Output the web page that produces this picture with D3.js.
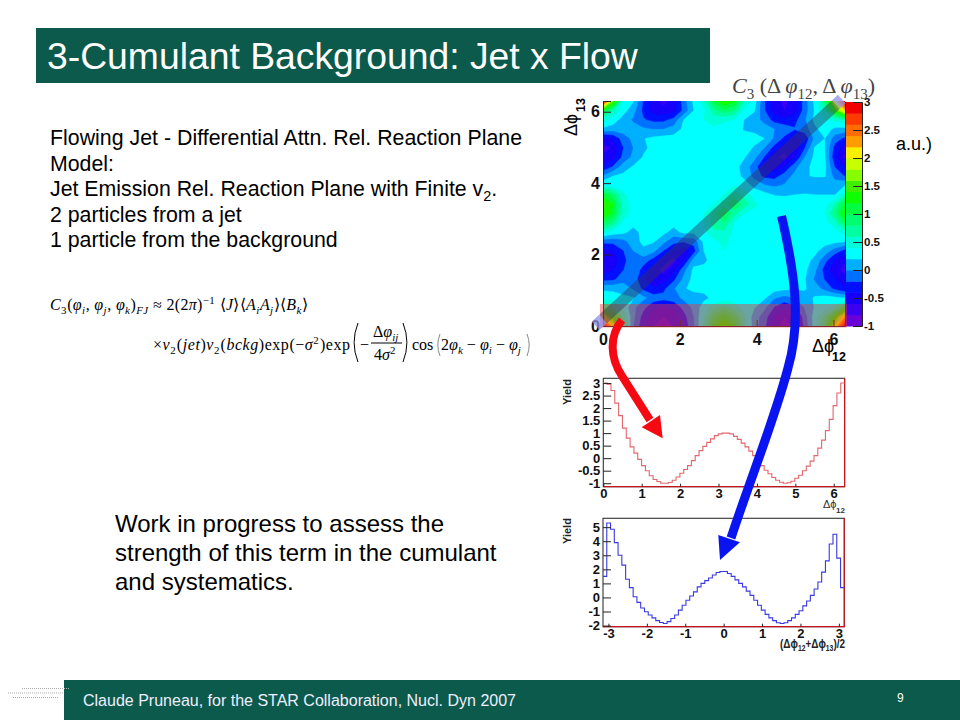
<!DOCTYPE html>
<html><head><meta charset="utf-8">
<script src="https://cdn.jsdelivr.net/npm/d3@7"></script>
<style>html,body{margin:0;padding:0;background:#fff}svg{display:block}
text{font-family:"Liberation Sans",Arial,sans-serif}</style></head>
<body><svg id="c" width="960" height="720" viewBox="0 0 960 720"></svg>
<script>
// ---------- values ----------
const titleText = "3-Cumulant Background: Jet x Flow";
const footerText = "Claude Pruneau, for the STAR Collaboration, Nucl. Dyn 2007";
const pageNumber = "9";
const wipLines = ["Work in progress to assess the","strength of this term in the cumulant","and systematics."];

// C3 map, rows from dphi13 = 0 upward, columns from dphi12 = 0 rightward
const c3Rows = [
[3.0,2.0,.7,0,-.35,-.6,-.68,-.6,-.35,-.03,.45,1.15,1.45,1.15,.5,.1,-.14,-.5,-.68,-.56,-.14,.3,.8,1.9,3.0],
[2.0,1.3,.55,.05,-.28,-.52,-.6,-.52,-.28,0,.4,.9,1.15,.9,.45,.1,-.1,-.42,-.6,-.5,-.1,.3,.65,1.3,2.2],
[.8,.65,.35,.05,-.14,-.35,-.42,-.35,-.14,.05,.3,.5,.65,.5,.3,.22,.05,-.21,-.35,-.25,.02,.22,.3,.45,1.0],
[.35,.3,.25,.22,.05,-.1,-.14,-.1,.05,.12,.15,.25,.3,.3,.28,.27,.23,.02,-.07,0,.12,.22,.28,.25,.2],
[.15,.15,.1,-.03,-.25,-.38,-.25,-.03,.18,.25,.25,.3,.3,.3,.3,.3,.3,.28,.25,.23,.22,.1,-.07,-.25,-.38],
[-.28,-.25,-.07,-.07,-.38,-.56,-.5,-.25,.05,.27,.3,.32,.35,.32,.3,.3,.3,.3,.3,.28,.22,-.03,-.21,-.38,-.52],
[-.5,-.42,-.21,-.03,-.28,-.5,-.68,-.5,-.07,.25,.27,.3,.35,.33,.3,.3,.3,.3,.3,.3,.25,.05,-.28,-.52,-.68],
[-.6,-.52,-.28,-.03,-.1,-.28,-.5,-.68,-.42,.1,.15,.3,.4,.35,.3,.3,.3,.3,.3,.3,.27,.15,-.14,-.42,-.56],
[-.5,-.42,-.21,0,.15,.05,-.21,-.42,-.56,-.28,.2,.3,.4,.35,.3,.3,.3,.3,.3,.3,.3,.25,.1,-.1,-.28],
[-.14,-.14,-.07,.1,.25,.22,.05,-.14,-.18,-.14,.25,.35,.45,.33,.3,.3,.3,.3,.3,.3,.3,.3,.28,.25,.2],
[.45,.3,.25,.12,.27,.3,.25,.12,.25,.25,.35,.55,.55,.35,.3,.3,.3,.3,.3,.3,.3,.3,.3,.33,.45],
[1.0,.75,.35,.27,.3,.3,.3,.27,.3,.32,.4,.7,.8,.4,.33,.3,.3,.3,.3,.3,.3,.3,.33,.5,1.0],
[1.4,1.15,.5,.33,.3,.3,.33,.33,.33,.35,.4,.7,1.05,.7,.4,.33,.3,.3,.3,.3,.3,.33,.4,.8,1.35],
[1.45,1.2,.5,.33,.3,.3,.3,.3,.3,.3,.33,.4,.7,1.0,.7,.45,.33,.3,.3,.3,.3,.3,.33,.6,1.15],
[1.15,.9,.45,.3,.3,.3,.3,.3,.3,.3,.3,.32,.4,.7,.55,.3,.27,.19,.18,.2,.22,.2,.2,.2,.6],
[.4,.3,.3,.28,.28,.3,.3,.3,.3,.3,.3,.3,.3,.4,.3,.15,.02,-.03,.02,.05,.05,.05,.05,.1,.2],
[.02,.2,.25,.27,.3,.3,.3,.3,.3,.3,.3,.3,.3,.3,.15,-.07,-.25,-.28,-.1,.05,.18,.22,.22,-.07,-.21],
[-.38,-.18,.1,.22,.3,.3,.3,.3,.3,.3,.3,.3,.3,.28,.12,-.1,-.42,-.6,-.38,-.07,.15,.25,.25,-.21,-.42],
[-.56,-.46,-.14,.05,.22,.3,.3,.3,.3,.3,.3,.3,.3,.3,.22,.05,-.21,-.56,-.68,-.42,0,.25,.22,-.35,-.65],
[-.68,-.56,-.21,0,.15,.27,.3,.3,.3,.3,.3,.3,.3,.3,.28,.18,0,-.28,-.52,-.6,-.21,.22,.2,-.28,-.52],
[-.5,-.38,-.1,.05,.19,.25,.28,.28,.28,.3,.3,.3,.3,.32,.3,.27,.2,-.03,-.25,-.46,-.35,.05,.2,-.1,-.25],
[.15,.1,.1,.08,.03,0,0,.08,.25,.3,.33,.35,.35,.33,.18,.15,.1,0,-.07,-.18,-.1,.15,.3,.15,.12],
[.5,.3,.12,-.03,-.18,-.25,-.25,-.14,.2,.3,.4,.5,.42,.4,.2,.1,-.07,-.28,-.35,-.28,-.03,.25,.4,.45,.6],
[1.2,.6,.28,.08,-.25,-.5,-.56,-.46,-.14,.2,.35,.7,.95,.8,.35,.22,-.18,-.5,-.6,-.5,-.1,.22,.6,1.4,2.2],
[3.0,1.6,.38,.22,-.21,-.52,-.65,-.52,-.1,.25,.5,1.1,1.4,1.25,.6,.3,-.18,-.52,-.65,-.52,-.1,.25,.9,2.0,3.0]
];
const levelEdges = [-1,-.8,-.6,-.4,-.2,0,.2,.4,.6,.8,1,1.2,1.4,1.6,1.8,2,2.2,2.4,2.6,2.8];
const levelColors = ["#6a00d8","#3c00f0","#1800f8","#0010ff","#0070ff","#00b0ff","#00ffff","#00ffd8","#00ffa0","#00ff70",
"#00ff40","#10ff00","#40f000","#88ff00","#c8ff00","#f8f000","#ff9c00","#ff6c00","#ff3a00","#f00000"];
const c3Ticks = [0,2,4,6];
const barTicks = [3,2.5,2,1.5,1,.5,0,-.5,-1];

// y values of the two projections
const redYield = [3.0,2.95,2.7,2.2,1.7,1.2,.8,.45,.2,-.05,-.3,-.5,-.7,-.85,-.93,-1,-1,-.97,-.88,-.75,-.6,-.45,-.3,-.1,.1,.3,.47,.63,.77,.9,.97,1,1,.97,.87,.75,.6,.45,.28,.1,-.15,-.3,-.48,-.62,-.77,-.88,-.96,-1,-.98,-.92,-.8,-.68,-.5,-.32,-.12,.1,.4,.72,1.1,1.55,2.1,2.6,3.0];
const blueYield = [1.5,5.3,4.85,3.9,3.0,2.3,1.3,.7,.05,-.35,-.75,-1.02,-1.25,-1.45,-1.65,-1.78,-1.85,-1.72,-1.5,-1.25,-.9,-.55,-.2,.1,.4,.75,1.0,1.2,1.38,1.6,1.78,1.85,1.85,1.7,1.5,1.25,1.0,.75,.45,.15,-.2,-.55,-.9,-1.2,-1.45,-1.65,-1.8,-1.85,-1.8,-1.65,-1.45,-1.2,-.95,-.6,-.25,.15,.6,1.1,1.8,2.6,3.8,4.5,2.8,.7];
const redYTicks = [3,2.5,2,1.5,1,.5,0,-.5,-1];
const redXTicks = [0,1,2,3,4,5,6];
const blueYTicks = [5,4,3,2,1,0,-1,-2];
const blueXTicks = [-3,-2,-1,0,1,2,3];

// ---------- drawing ----------
const svg = d3.select("#c");
const GREEN = "#0c5a4b";
const PHI = "\u03d5";
const root = svg.append("g");
const plain = d => String(d);

// helper: a line of text with sub/superscripts
function rich(x, y, parts, o){
  const t = root.append("text").attr("x",x).attr("y",y).attr("font-size",o.size).attr("fill",o.fill||"#000")
    .attr("font-weight",o.weight||"normal").style("font-family",o.family||null);
  if(o.len) t.attr("textLength",o.len).attr("lengthAdjust",o.adjust||"spacing");
  if(o.rotate!=null) t.attr("transform",`rotate(${o.rotate} ${x} ${y})`);
  parts.forEach(p=>{
    const [s,mode,it] = Array.isArray(p)?p:[p];
    const d = mode==="sub"?o.size*.28:mode==="sup"?-o.size*.38:0;
    const sp = t.append("tspan").text(s).attr("dy",d);
    if(mode) sp.attr("font-size",o.size*.68);
    if(it) sp.attr("font-style","italic");
    if(d){ t.append("tspan").text("\u200a").attr("dy",-d).attr("font-size",1); }
  });
  return t;
}

// title and footer
root.append("rect").attr("x",36).attr("y",28).attr("width",674).attr("height",55).attr("fill",GREEN);
root.append("text").attr("x",47).attr("y",69).attr("font-size",37.3).attr("fill","#fff").text(titleText);
root.append("rect").attr("x",64).attr("y",680).attr("width",896).attr("height",40).attr("fill",GREEN);
root.append("text").attr("x",83).attr("y",706).attr("font-size",16).attr("fill","#eef").attr("textLength",433).text(footerText);
root.append("text").attr("x",897).attr("y",702).attr("font-size",12).attr("fill","#fff").text(pageNumber);
[[22,688.5,48],[8,693,56],[13,697.5,46]].forEach(l=>{
  root.append("line").attr("x1",l[0]).attr("x2",l[0]+l[2]).attr("y1",l[1]).attr("y2",l[1])
   .attr("stroke","#aaa").attr("stroke-width",1.2).attr("stroke-dasharray","1 1");
});

// body text
rich(50,145,["Flowing Jet - Differential Attn. Rel. Reaction Plane"],{size:21.3,len:472});
rich(50,170.5,["Model:"],{size:21.3});
rich(50,195.5,["Jet Emission Rel. Reaction Plane with Finite v",["2","sub"],"."],{size:21.3});
rich(50,221.5,["2 particles from a jet"],{size:21.3});
rich(50,246.5,["1 particle from the background"],{size:21.3});
wipLines.forEach((s,i)=>{
  root.append("text").attr("x",115).attr("y",532+i*29).attr("font-size",24).text(s);
});
rich(896,150,["a.u.)"],{size:18});

// equation
const SERIF = '"Liberation Serif",serif';
rich(50,310,[["C",null,1],["3","sub"],"(",["\u03c6",null,1],["i","sub",1],", ",["\u03c6",null,1],["j","sub",1],", ",["\u03c6",null,1],["k","sub",1],")",["FJ","sub",1]," \u2248 2(2",["\u03c0",null,1],")",["\u22121","sup"]," \u27e8",["J",null,1],"\u27e9\u27e8",["A",null,1],["i","sub",1],["A",null,1],["j","sub",1],"\u27e9\u27e8",["B",null,1],["k","sub",1],"\u27e9"],{size:16,family:SERIF,len:258});
rich(153,350,["\u00d7",["v",null,1],["2","sub"],"(",["jet",null,1],")",["v",null,1],["2","sub"],"(",["bckg",null,1],")exp(\u2212",["\u03c3",null,1],["2","sup"],")exp"],{size:16,family:SERIF,len:197});
rich(360,350,["\u2212"],{size:16,family:SERIF});
rich(373,337,["\u0394",["\u03c6",null,1],["ij","sub",1]],{size:16,family:SERIF});
root.append("line").attr("x1",371).attr("x2",402).attr("y1",343).attr("y2",343).attr("stroke","#000");
rich(374,360,["4",["\u03c3",null,1],["2","sup"]],{size:16,family:SERIF});
rich(412,350,["cos"],{size:16,family:SERIF});
rich(441,350,["2",["\u03c6",null,1],["k","sub",1]," \u2212 ",["\u03c6",null,1],["i","sub",1]," \u2212 ",["\u03c6",null,1],["j","sub",1]],{size:16,family:SERIF,len:80});
// tall brackets of the formula
[[358,323,362,-1],[403,323,362,1],[440,334,356,-1],[527,334,356,1]].forEach(b=>{
  const bow=(b[2]-b[1])*.2*b[3];
  root.append("path").attr("d",`M${b[0]},${b[1]}Q${b[0]+bow},${(b[1]+b[2])/2} ${b[0]},${b[2]}`)
   .attr("fill","none").attr("stroke",b[0]>430?"#888":"#000").attr("stroke-width",1);
});

// ---- C3 map ----
const xMap = d3.scaleLinear().domain([0,6.3]).range([603,845]);
const yMap = d3.scaleLinear().domain([0,6.3]).range([326,101]);
const step = 6.3/(c3Rows[0].length-1);
root.append("defs").append("clipPath").attr("id","mapClip").append("rect")
  .attr("x",xMap(0)).attr("y",yMap(6.3)).attr("width",xMap(6.3)-xMap(0)).attr("height",yMap(0)-yMap(6.3));
const nx = c3Rows[0].length, ny = c3Rows.length;
const contours = d3.contours().size([nx,ny]).thresholds(levelEdges).smooth(true)(c3Rows.flat());
const geo = d3.geoPath(d3.geoTransform({point(x,y){
  this.stream.point(xMap((x-.5)*step), yMap((y-.5)*step));
}}));
root.append("g").attr("clip-path","url(#mapClip)").selectAll("path").data(contours).join("path")
  .attr("d",geo).attr("fill",(d,i)=>levelColors[i]).attr("stroke",(d,i)=>levelColors[i]).attr("stroke-width",.3);

// axes of the map
const mapX = d3.axisBottom(xMap).tickValues(c3Ticks).tickSize(-6).tickPadding(8).tickFormat(plain);
const mapY = d3.axisLeft(yMap).tickValues(c3Ticks).tickSize(-8).tickPadding(3).tickFormat(plain);
function styleAxis(g,size){
  g.selectAll("text").attr("font-size",size).attr("font-weight","bold").attr("fill","#111").style("font-family",'"Liberation Sans"');
  g.selectAll("line").attr("stroke","#222");
}
root.append("g").attr("transform",`translate(0,326)`).call(mapX).call(g=>styleAxis(g,16)).call(g=>g.select(".domain").attr("stroke","#222"));
root.append("g").attr("transform",`translate(603,0)`).call(mapY).call(g=>styleAxis(g,16)).call(g=>g.select(".domain").attr("stroke","#222"));
rich(577,136,["\u0394"+PHI],{size:18,rotate:-90});
rich(585,112,["13"],{size:12.5,rotate:-90,weight:"bold"});
rich(812,352,["\u0394"+PHI],{size:18});
rich(832,361,["12"],{size:12.5,weight:"bold"});
rich(732,93,[["C",null,1],["3","sub"]," (\u0394 ",["\u03c6",null,1],["12","sub"],", \u0394 ",["\u03c6",null,1],["13","sub"],")"],{size:22,family:SERIF,fill:"#444",len:143});

// colour bar
const yBar = d3.scaleLinear().domain([-1,3]).range([326,102]);
root.append("g").selectAll("rect").data(levelEdges).join("rect")
  .attr("x",846).attr("width",16).attr("y",(d,i)=>yBar(d+.2)).attr("height",(d)=>yBar(d)-yBar(d+.2)+.5)
  .attr("fill",(d,i)=>levelColors[i]);
root.append("g").attr("transform","translate(862,0)")
  .call(d3.axisRight(yBar).tickValues(barTicks).tickSize(-9).tickPadding(2).tickFormat(plain))
  .call(g=>styleAxis(g,11.5)).call(g=>g.select(".domain").attr("stroke","#222"));
root.append("line").attr("x1",845.5).attr("x2",845.5).attr("y1",102).attr("y2",326).attr("stroke","#222");

// ---- projections ----
function histPanel(o){
  const x = d3.scaleLinear().domain(o.xd).range([o.x0,o.x1]);
  const y = d3.scaleLinear().domain(o.yd).range([o.y1,o.y0]);
  const w = (o.xd[1]-o.xd[0])/o.vals.length;
  const pts = [];
  o.vals.forEach((v,k)=>{ pts.push([x(o.xd[0]+k*w),y(v)]); pts.push([x(o.xd[0]+(k+1)*w),y(v)]); });
  root.append("rect").attr("x",o.x0).attr("y",o.y0).attr("width",o.x1-o.x0).attr("height",o.y1-o.y0).attr("fill","none").attr("stroke","#333").attr("stroke-width",1.1);
  root.append("path").attr("d",`M${o.x0},${o.y1}H${o.x1}V${o.y0}`).attr("fill","none").attr("stroke","#c4141c").attr("stroke-width",1.2);
  root.append("path").attr("d",d3.line()(pts)).attr("fill","none").attr("stroke",o.color).attr("stroke-width",1.1);
  root.append("g").attr("transform",`translate(${o.x0},0)`).call(d3.axisLeft(y).tickValues(o.yt).tickSize(-8).tickPadding(3).tickFormat(plain))
    .call(g=>styleAxis(g,o.fs)).call(g=>g.select(".domain").remove());
  root.append("g").attr("transform",`translate(0,${o.y1})`).call(d3.axisBottom(x).tickValues(o.xt).tickSize(-3).tickPadding(2).tickFormat(plain))
    .call(g=>styleAxis(g,o.fs)).call(g=>g.select(".domain").remove());
  rich(571,o.yl,["Yield"],{size:11,weight:"bold",rotate:-90,fill:"#222"});
}
histPanel({vals:redYield,color:"#e2666c",xd:[0,2*Math.PI],yd:[-1.14,3.19],x0:603.3,x1:844.6,y0:378.3,y1:486.7,yt:redYTicks,xt:redXTicks,fs:13,yl:405});
histPanel({vals:blueYield,color:"#3a3ae0",xd:[-Math.PI,Math.PI],yd:[-2.08,5.63],x0:603,x1:844.3,y0:518.3,y1:626.7,yt:blueYTicks,xt:blueXTicks,fs:13,yl:544});
rich(823,508,["\u0394"+PHI],{size:11,fill:"#333"});
rich(836,513,["12"],{size:8,weight:"bold",fill:"#333"});
rich(780,648,["(\u0394"+PHI,["12","sub"],"+\u0394"+PHI,["13","sub"],")/2"],{size:12,weight:"bold",fill:"#222",len:65,adjust:"spacingAndGlyphs"});

// ---- annotations: overlaid bands and arrows ----
root.append("rect").attr("x",600).attr("y",304).attr("width",247).attr("height",23.5).attr("fill","rgb(240,50,50)").attr("opacity",.45);
root.append("path").attr("d","M603,319L836,104.4").attr("stroke","rgb(50,50,90)").attr("stroke-width",11.5).attr("opacity",.45).attr("fill","none");
root.append("path").attr("d","M595.7,325.7L603,319M836,104.4L841.7,99").attr("stroke","#8f8fe8").attr("stroke-width",11.5).attr("opacity",.75).attr("fill","none");
root.append("path").attr("d","M622,320C609,336 610,358 622,376L650,420").attr("fill","none").attr("stroke","#f50a14").attr("stroke-width",8);
root.append("path").attr("d","M662.7,438.3L660,415L641.7,427.3Z").attr("fill","#f50a14");
root.append("path").attr("d","M781.5,216C794,270 802,320 788,368C775,418 750,480 731,538").attr("fill","none").attr("stroke","#0a14f0").attr("stroke-width",9);
root.append("path").attr("d","M720,560L740,542.3L718.3,535Z").attr("fill","#0a14f0");
</script></body></html>
